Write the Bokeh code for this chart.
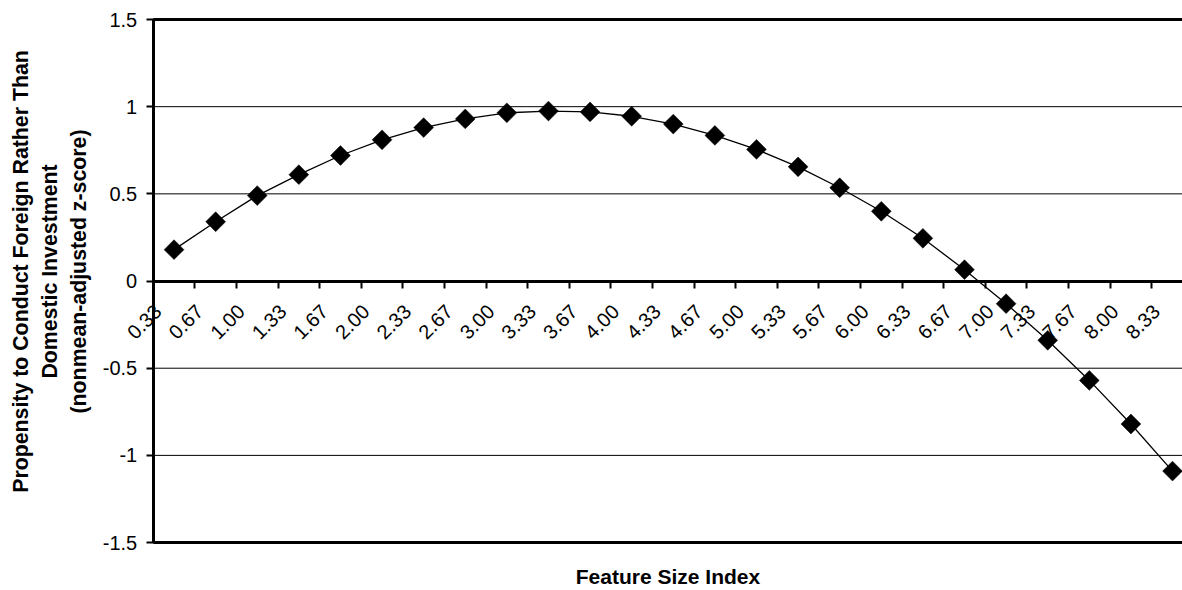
import math
from bokeh.plotting import figure
from bokeh.models import (Range1d, FixedTicker, CustomJSTickFormatter,
                          LinearAxis)
from bokeh.embed import file_html
from bokeh.resources import INLINE

# ---- data ----
categories = ["0.33", "0.67", "1.00", "1.33", "1.67", "2.00", "2.33", "2.67",
              "3.00", "3.33", "3.67", "4.00", "4.33", "4.67", "5.00", "5.33",
              "5.67", "6.00", "6.33", "6.67", "7.00", "7.33", "7.67", "8.00",
              "8.33"]
values = [0.18, 0.34, 0.49, 0.61, 0.72, 0.81, 0.88, 0.93, 0.965, 0.975, 0.97,
          0.945, 0.90, 0.835, 0.755, 0.655, 0.535, 0.40, 0.245, 0.065, -0.13,
          -0.34, -0.57, -0.82, -1.09]
y_ticks = [-1.5, -1.0, -0.5, 0.0, 0.5, 1.0, 1.5]
x_title = "Feature Size Index"
y_title = ("Propensity to Conduct Foreign Rather Than\n"
           "Domestic Investment\n"
           "(nonmean-adjusted z-score)")

FONT = "Liberation Sans"

n = len(categories)
centers = [i + 0.5 for i in range(n)]
bounds = list(range(n + 1))
LABEL_SHIFT = 0.385          # rotated labels sit a little left of the centre
label_pos = [c - LABEL_SHIFT for c in centers]
Y_MIN, Y_MAX = y_ticks[0], y_ticks[-1]
X_START, X_END = bounds[0], bounds[-1]

# the frame covers the whole canvas; the axes are drawn at fixed locations
p = figure(width=1182, height=590, output_backend="svg", toolbar_location=None,
           x_range=Range1d(-3.671, 24.74), y_range=Range1d(-1.775, 1.609),
           min_border=0, min_border_left=0, min_border_right=0,
           min_border_top=0, min_border_bottom=0)
p.outline_line_color = None
p.background_fill_color = "white"
p.border_fill_color = "white"
p.xgrid.visible = False
p.ygrid.visible = False

# horizontal gridlines, only inside the plot area
inner = [t for t in y_ticks if t not in (Y_MIN, Y_MAX, 0.0)]
p.segment(x0=[X_START] * len(inner), y0=inner, x1=[X_END] * len(inner),
          y1=inner, line_color="black", line_width=1)

# plot-area top / bottom border
p.segment(x0=[X_START] * 2, y0=[Y_MIN, Y_MAX], x1=[X_END] * 2,
          y1=[Y_MIN, Y_MAX], line_color="black", line_width=3)

# y axis line at x = 0
y_line_axis = LinearAxis(fixed_location=X_START, bounds=(Y_MIN, Y_MAX),
                         ticker=FixedTicker(ticks=[]),
                         axis_line_color="black", axis_line_width=3,
                         major_tick_line_color=None,
                         minor_tick_line_color=None, major_tick_out=0)
p.add_layout(y_line_axis, "left")

# y ticks, tick labels and title (title centred a little above the middle)
p.yaxis[0].fixed_location = X_START
p.yaxis[0].bounds = (Y_MIN, Y_MAX + 0.16)
p.yaxis[0].ticker = FixedTicker(ticks=y_ticks)
p.yaxis[0].formatter = CustomJSTickFormatter(code="return String(tick)")
p.yaxis[0].axis_line_color = None
p.yaxis[0].major_tick_line_width = 2
p.yaxis[0].major_tick_line_color = "black"
p.yaxis[0].major_tick_out = 7
p.yaxis[0].major_tick_in = 0
p.yaxis[0].minor_tick_line_color = None
p.yaxis[0].major_label_text_font = FONT
p.yaxis[0].major_label_text_font_size = "20px"
p.yaxis[0].major_label_text_color = "black"
p.yaxis[0].major_label_standoff = 9
p.yaxis[0].axis_label = y_title
p.yaxis[0].axis_label_text_font = FONT
p.yaxis[0].axis_label_text_font_size = "21.3px"
p.yaxis[0].axis_label_text_font_style = "bold"
p.yaxis[0].axis_label_text_color = "black"
p.yaxis[0].axis_label_standoff = 9

# x axis title under the plot area
p.xaxis.fixed_location = Y_MIN
p.xaxis.bounds = (X_START, 24.74)
p.xaxis.ticker = FixedTicker(ticks=[])
p.xaxis.axis_line_color = None
p.xaxis.major_tick_line_color = None
p.xaxis.minor_tick_line_color = None
p.xaxis.major_tick_out = 0
p.xaxis.major_label_standoff = 0
p.xaxis.axis_label = x_title
p.xaxis.axis_label_text_font = FONT
p.xaxis.axis_label_text_font_size = "21px"
p.xaxis.axis_label_text_font_style = "bold"
p.xaxis.axis_label_text_color = "black"
p.xaxis.axis_label_standoff = 22

# category axis on the zero line: tick marks between categories
zero_axis = LinearAxis(fixed_location=0, bounds=(X_START, X_END),
                       ticker=FixedTicker(ticks=bounds),
                       formatter=CustomJSTickFormatter(code="return ''"),
                       axis_line_color="black", axis_line_width=3,
                       major_tick_line_color="black", major_tick_line_width=2,
                       major_tick_out=7, major_tick_in=0,
                       minor_tick_line_color=None, major_label_standoff=0)
p.add_layout(zero_axis, "below")

# rotated category labels on the zero line
label_axis = LinearAxis(
    fixed_location=0, ticker=FixedTicker(ticks=label_pos),
    formatter=CustomJSTickFormatter(
        args=dict(labels=categories, shift=0.5 - LABEL_SHIFT),
        code="const i = Math.round(tick - shift); return labels[i] || '';"),
    axis_line_color=None, major_tick_line_color=None,
    minor_tick_line_color=None, major_tick_out=0, major_tick_in=0,
    major_label_orientation=math.pi / 4, major_label_standoff=27,
    major_label_text_font=FONT, major_label_text_font_size="20px",
    major_label_text_color="black")
p.add_layout(label_axis, "below")

# series
p.line(centers, values, line_color="black", line_width=1.3)
p.scatter(centers, values, marker="square", size=14, angle=math.pi / 4,
          fill_color="black", line_color="black", line_width=0.5)

open("out.html", "w").write(file_html(p, INLINE))
